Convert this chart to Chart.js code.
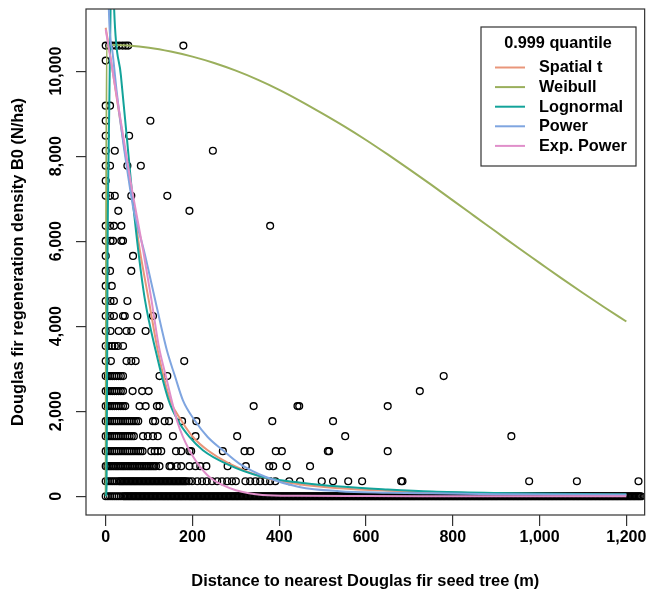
<!DOCTYPE html>
<html><head><meta charset="utf-8">
<script src="https://cdn.jsdelivr.net/npm/chart.js@4.4.1/dist/chart.umd.min.js"></script>
<style>html,body{margin:0;padding:0;background:#fff;}#wrap{width:650px;height:596px;}</style>
</head><body><div id="wrap"><canvas id="c" width="650" height="596"></canvas></div>
<script>
// ---- tick labels ----
const xTicks = [0, 200, 400, 600, 800, 1000, 1200];
const yTicks = [0, 2000, 4000, 6000, 8000, 10000];

// ---- observed regeneration densities (N/ha), one level per row ----
const densityLevels = [0, 353, 707, 1060, 1413, 1767, 2120, 2473, 2827, 3180, 3533, 3887, 4240, 4593, 4947, 5300, 5653, 6007, 6360, 6713, 7067, 7420, 7773, 8127, 8480, 8833, 9187, 9540, 9893, 10247, 10600];

// distances (m) of the plots observed at each density level
const dist0 = [0,5,10,15,20,25,30,35,40,
43,46,49,52,55,58,61,64,67,70,73,76,79,82,85,88,91,94,97,100,
103,106,109,112,115,118,121,124,127,130,133,136,139,142,145,148,151,154,157,160,
163,166,169,172,175,178,181,184,187,190,193,196,199,202,205,208,211,214,217,220,
223,226,229,232,235,238,241,244,247,250,253,256,259,262,265,268,271,274,277,280,
283,286,289,292,295,298,301,304,307,310,313,316,319,322,325,328,331,334,337,340,
343,346,349,352,355,358,361,364,367,370,373,376,379,382,385,388,391,394,397,400,
403,406,409,412,415,418,421,424,427,430,433,436,439,442,445,448,451,454,457,460,
463,466,469,472,475,478,481,484,487,490,493,496,499,502,505,508,511,514,517,520,
523,526,529,532,535,538,541,544,547,550,553,556,559,562,565,568,571,574,577,580,
583,586,589,592,595,598,601,604,607,610,613,616,619,622,625,628,631,634,637,640,
643,646,649,652,655,658,661,664,667,670,673,676,679,682,685,688,691,694,697,700,
703,706,709,712,715,718,721,724,727,730,733,736,739,742,745,748,751,754,757,760,
763,766,769,772,775,778,781,784,787,790,793,796,799,802,805,808,811,814,817,820,
823,826,829,832,835,838,841,844,847,850,853,856,859,862,865,868,871,874,877,880,
883,886,889,892,895,898,901,904,907,910,913,916,919,922,925,928,931,934,937,940,
943,946,949,952,955,958,961,964,967,970,973,976,979,982,985,988,991,994,997,1000,
1003,1006,1009,1012,1015,1018,1021,1024,1027,1030,1033,1036,1039,1042,1045,1048,1051,1054,1057,1060,
1063,1066,1069,1072,1075,1078,1081,1084,1087,1090,1093,1096,1099,1102,1105,1108,1111,1114,1117,1120,
1123,1126,1129,1132,1135,1138,1141,1144,1147,1150,1153,1156,1159,1162,1165,1168,1171,1174,1177,1180,
1183,1186,1189,1192,1195,1198,1201,1204,1207,1210,1213,1216,1219,1222,1225,1228,1231,1234];
const dist1 = [0,5,10,15,20,25,30,33,36,39,42,45,48,51,54,57,60,63,66,69,72,75,78,81,84,87,90,93,96,99,102,105,108,111,114,117,120,123,126,129,132,135,138,141,144,147,150,153,156,159,162,165,168,171,174,177,180,183,186,
192,199,211,222,233,245,257,268,280,291,300,322,333,345,356,368,379,391,423,448,498,524,559,591,681,684,976,1086,1228];
const dist2 = [0,4,8,12,16,20,24,28,32,36,40,44,48,52,56,60,64,68,72,76,80,84,88,92,96,100,104,108,112,116,124,147,151,164,174,193,207,218,232,281,323,377,386,417,471];
const dist3 = [0,5,10,15,20,25,30,35,40,45,50,55,60,65,70,75,80,85,105,113,120,128,162,174,193,197,270,320,333,392,406,512,515,650];
const dist4 = [0,5,10,15,20,25,30,35,40,45,50,55,60,65,86,97,109,120,155,207,303,552,935];
const dist5 = [0,5,10,15,20,25,30,35,40,45,50,55,60,65,70,75,109,114,136,146,176,209,384,524];
const dist6 = [0,5,10,15,20,25,30,35,40,45,78,92,118,124,341,442,446,650];
const dist7 = [0,5,10,15,20,25,30,35,40,62,84,99,724];
const dist8 = [0,5,10,15,20,25,30,35,40,124,142,779];
const dist9 = [0,12,48,59,69,181];
const dist10 = [0,7,15,21,28,40];
const dist11 = [0,11,30,48,59,92];
const dist12 = [0,10,19,40,44,73,109];
const dist13 = [0,11,19,50];
const dist14 = [0,14];
const dist15 = [0,10,59];
const dist16 = [0,63];
const dist17 = [0,11,17,36,40];
const dist18 = [0,10,19,36,379];
const dist19 = [29,193];
const dist20 = [0,10,21,59,142];
const dist21 = [0];
const dist22 = [0,10,50,81];
const dist23 = [0,21,247];
const dist24 = [0,54];
const dist25 = [0,103];
const dist26 = [0,10];
const dist27 = [];
const dist28 = [];
const dist29 = [0];
const dist30 = [0,8,15,23,31,39,46,52,179];
const distancesByLevel = [dist0,dist1,dist2,dist3,dist4,dist5,dist6,dist7,dist8,dist9,dist10,dist11,dist12,dist13,dist14,dist15,dist16,dist17,dist18,dist19,dist20,dist21,dist22,dist23,dist24,dist25,dist26,dist27,dist28,dist29,dist30];

// ---- fitted 0.999-quantile dispersal curves [distance, density] ----
const spatialT = [[0,11020],[10,10400],[25,9400],[40,8400],[60,7100],[78,5830],[100,4570],[120,3432],[149,2257],[174,1787],[201,1394],[235,1081],[285,768],[361,454],[446,280],[538,190],[650,130],[752,95],[900,65],[1050,48],[1200,37]];
const weibull = [[0,0],[2,10620],[50,10600],[100,10550],[150,10460],[200,10340],[250,10190],[300,10010],[350,9800],[400,9560],[450,9290],[500,9000],[550,8700],[600,8380],[650,8040],[700,7690],[750,7330],[800,6960],[850,6590],[900,6220],[950,5850],[1000,5490],[1050,5130],[1100,4780],[1150,4440],[1200,4110]];
const lognormal = [[0,0],[2,200],[4.4,5830],[8,9000],[11.2,11450],[13,12600],[15.5,12900],[17.5,12300],[19.5,11450],[35,9900],[50,8300],[62,7000],[75,5784],[90,4650],[115,3432],[145,2257],[166,1787],[193,1394],[224,1081],[277,768],[362,454],[450,320],[540,230],[650,160],[752,110],[900,78],[1050,58],[1200,47]];
const power = [[2.5,16500],[4.5,14000],[7.3,11450],[15,10500],[25,9550],[36,8650],[50,7650],[65,6700],[88,5784],[110,4800],[141,3432],[159,2845],[178,2257],[205,1787],[235,1394],[270,1081],[308,768],[369,454],[446,220],[538,120],[650,85],[752,68],[900,50],[1050,40],[1200,33]];
const expPower = [[0,10980],[20,9750],[40,8500],[60,7250],[86,5800],[105,4650],[122,3550],[138,2850],[151,2300],[164,1787],[178,1394],[193,1081],[212,768],[239,454],[270,260],[300,141],[330,70],[361,30],[446,10],[600,3],[800,1],[1200,0]];

const seriesNames = ['Spatial t', 'Weibull', 'Lognormal', 'Power', 'Exp. Power'];
const seriesColors = ['#E9967A', '#9AAF5C', '#13A39A', '#7FA5E0', '#E08FCA'];
const seriesData = [spatialT, weibull, lognormal, power, expPower];

const legendTitle = '0.999 quantile';
const xTitle = 'Distance to nearest Douglas fir seed tree (m)';
const yTitle = 'Douglas fir regeneration density B0 (N/ha)';

// ---- build datasets ----
const observed = [];
distancesByLevel.forEach((row, k) => row.forEach(d => observed.push({x: d, y: densityLevels[k]})));

const lineOrder = [5, 4, 3, 2, 1];
const datasets = seriesData.map((arr, i) => ({
  label: seriesNames[i],
  data: arr.map(p => ({x: p[0], y: p[1]})),
  showLine: true,
  borderColor: seriesColors[i],
  backgroundColor: seriesColors[i],
  borderWidth: 2,
  pointRadius: 0,
  cubicInterpolationMode: 'monotone',
  order: lineOrder[i]
}));
datasets.push({
  label: 'observed',
  data: observed,
  showLine: false,
  pointStyle: 'circle',
  pointRadius: 3.4,
  borderWidth: 1.35,
  borderColor: '#000',
  backgroundColor: 'rgba(0,0,0,0)',
  order: 10
});

const FONT = '"Liberation Sans", Arial, Helvetica, sans-serif';
const fmt = v => v.toLocaleString('en-US');

const decor = {
  id: 'decor',
  afterDraw(chart) {
    const ctx = chart.ctx, a = chart.chartArea;
    const xs = chart.scales.x, ys = chart.scales.y;
    ctx.save();
    // plot box
    ctx.strokeStyle = '#333'; ctx.lineWidth = 1.2;
    ctx.strokeRect(a.left, a.top, a.right - a.left, a.bottom - a.top);
    ctx.fillStyle = '#000';
    // x tick labels
    ctx.font = 'bold 16px ' + FONT;
    ctx.textAlign = 'center'; ctx.textBaseline = 'middle';
    xTicks.forEach(v => ctx.fillText(fmt(v), xs.getPixelForValue(v), 537.5));
    // y tick labels (rotated)
    yTicks.forEach(v => {
      ctx.save();
      ctx.translate(57, ys.getPixelForValue(v));
      ctx.rotate(-Math.PI / 2);
      ctx.fillText(fmt(v), 0, 0);
      ctx.restore();
    });
    // axis titles
    ctx.font = 'bold 16.4px ' + FONT;
    ctx.fillText(xTitle, (a.left + a.right) / 2, 581);
    ctx.save();
    ctx.translate(18.5, (a.top + a.bottom) / 2);
    ctx.rotate(-Math.PI / 2);
    ctx.fillText(yTitle, 0, 0);
    ctx.restore();
    // legend
    const L = 481, T = 27, W = 155, H = 139;
    ctx.fillStyle = '#fff';
    ctx.fillRect(L, T, W, H);
    ctx.strokeStyle = '#333'; ctx.lineWidth = 1.2;
    ctx.strokeRect(L, T, W, H);
    ctx.fillStyle = '#000';
    ctx.font = 'bold 16.3px ' + FONT;
    ctx.textAlign = 'center';
    ctx.fillText(legendTitle, 558, 44);
    ctx.textAlign = 'left';
    seriesNames.forEach((n, i) => {
      const y = 67.5 + 19.6 * i;
      ctx.strokeStyle = seriesColors[i]; ctx.lineWidth = 2;
      ctx.beginPath(); ctx.moveTo(495, y); ctx.lineTo(525, y); ctx.stroke();
      ctx.fillText(n, 539, y + 0.5);
    });
    ctx.restore();
  }
};

new Chart(document.getElementById('c'), {
  type: 'scatter',
  data: { datasets },
  options: {
    responsive: false,
    animation: false,
    devicePixelRatio: 1,
    events: [],
    layout: { padding: { top: 9, right: 3, left: 0, bottom: 0 } },
    plugins: { legend: { display: false }, tooltip: { enabled: false } },
    scales: {
      x: {
        type: 'linear', min: -45.4, max: 1242.2,
        afterBuildTicks: s => { s.ticks = xTicks.map(v => ({value: v})); },
        afterFit: s => { s.height = 81; },
        ticks: { display: false },
        grid: { drawOnChartArea: false, drawTicks: true, tickLength: 11, color: '#333', lineWidth: 1.2 },
        border: { display: false }
      },
      y: {
        type: 'linear', min: -441, max: 11461,
        afterBuildTicks: s => { s.ticks = yTicks.map(v => ({value: v})); },
        afterFit: s => { s.width = 86; },
        ticks: { display: false },
        grid: { drawOnChartArea: false, drawTicks: true, tickLength: 10, color: '#333', lineWidth: 1.2 },
        border: { display: false }
      }
    }
  },
  plugins: [decor]
});
</script>
</body></html>
